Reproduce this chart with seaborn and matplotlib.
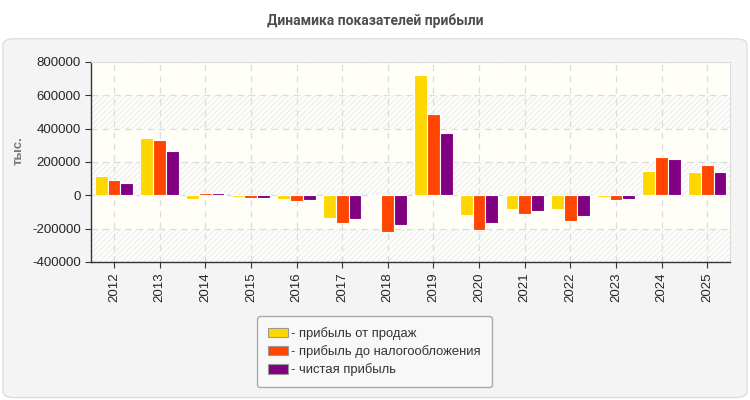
import numpy as np
import pandas as pd
import seaborn as sns
import matplotlib
matplotlib.use("Agg")
from matplotlib import pyplot as plt
from matplotlib.patches import FancyBboxPatch, Patch

years = ["2012", "2013", "2014", "2015", "2016", "2017", "2018",
         "2019", "2020", "2021", "2022", "2023", "2024", "2025"]
series = ["прибыль от продаж", "прибыль до налогообложения", "чистая прибыль"]
sales = [118000, 344000, -22000, -10000, -22000, -136000, -4000,
         722000, -118000, -82000, -82000, -10000, 146000, 140000]
pretax = [92000, 332000, 14000, -16000, -34000, -166000, -220000,
          488000, -208000, -112000, -154000, -28000, 230000, 182000]
net = [74000, 266000, 14000, -16000, -30000, -144000, -178000,
       374000, -166000, -94000, -124000, -22000, 218000, 140000]
colors = ["#FFD700", "#FF4500", "#800080"]
yticks = list(range(-400000, 800001, 200000))

df = pd.DataFrame({
    "year": years * 3,
    "series": [series[0]] * 14 + [series[1]] * 14 + [series[2]] * 14,
    "value": sales + pretax + net,
})

sns.set_style("white")
plt.rcParams["font.family"] = ["Liberation Sans", "DejaVu Sans"]
plt.rcParams["hatch.linewidth"] = 0.7

fig = plt.figure(figsize=(7.5, 4), dpi=100)
fig.patch.set_facecolor("white")

# grey rounded panel behind the plot
panel = FancyBboxPatch((0.004, 0.006), 0.992, 0.897,
                       boxstyle="round,pad=0,rounding_size=0.015",
                       transform=fig.transFigure, facecolor="#f4f4f4",
                       edgecolor="#dedede", lw=1, zorder=-10)
fig.patches.append(panel)

fig.text(0.5, 0.948, "Динамика показателей прибыли", ha="center", va="center",
         fontsize=10, fontweight="bold", color="#4d4d4d", family=["Roboto", "DejaVu Sans"])

ax = fig.add_axes([0.1215, 0.345, 0.852, 0.5])
ax.set_facecolor("#fffff8")
# alternating hatched bands
for lo in [-400000, 0, 400000]:
    ax.axhspan(lo, lo + 200000, facecolor="#fdfdfb", hatch="//////",
               edgecolor="#ebebe8", lw=0, zorder=0)

sns.barplot(data=df, x="year", y="value", hue="series", palette=colors,
            saturation=1, width=0.84, ax=ax, legend=False, zorder=3,
            edgecolor="white", linewidth=0.8)

ax.set_ylim(-400000, 800000)
ax.set_yticks(yticks)
ax.set_yticklabels([str(v) for v in yticks])
ax.set_xlim(-0.5, 13.5)
ax.grid(True, color="#dcdcdc", linestyle=(0, (5, 4)), lw=0.9)
ax.set_axisbelow(True)
ax.tick_params(axis="x", rotation=90, labelsize=9.5, length=4, color="#333333", bottom=True)
ax.tick_params(axis="y", labelsize=9.5, length=4, color="#333333", left=True)
for s in ["left", "bottom"]:
    ax.spines[s].set_color("#333333")
    ax.spines[s].set_linewidth(1)
for s in ["top", "right"]:
    ax.spines[s].set_color("#dddddd")
ax.set_xlabel("")
ax.set_ylabel("тыс.", fontsize=9.5, fontweight="bold", color="#7a7a7a")
ax.yaxis.set_label_coords(-0.104, 0.555)

handles = [Patch(facecolor=c, edgecolor="#999999", lw=0.8) for c in colors]
leg = fig.legend(handles, ["- " + s for s in series], loc="upper left",
                 bbox_to_anchor=(0.3427, 0.21), bbox_transform=fig.transFigure,
                 borderaxespad=0, fontsize=9.4, frameon=True, handlelength=1.5,
                 handleheight=0.75, handletextpad=0.25, labelspacing=0.4,
                 borderpad=0.85, fancybox=True)
leg.get_frame().set_facecolor("#f8f8f8")
leg.get_frame().set_edgecolor("#aaaaaa")
leg.get_frame().set_alpha(1)
for t in leg.get_texts():
    t.set_color("#333333")

fig.savefig("out.png", dpi=100)
